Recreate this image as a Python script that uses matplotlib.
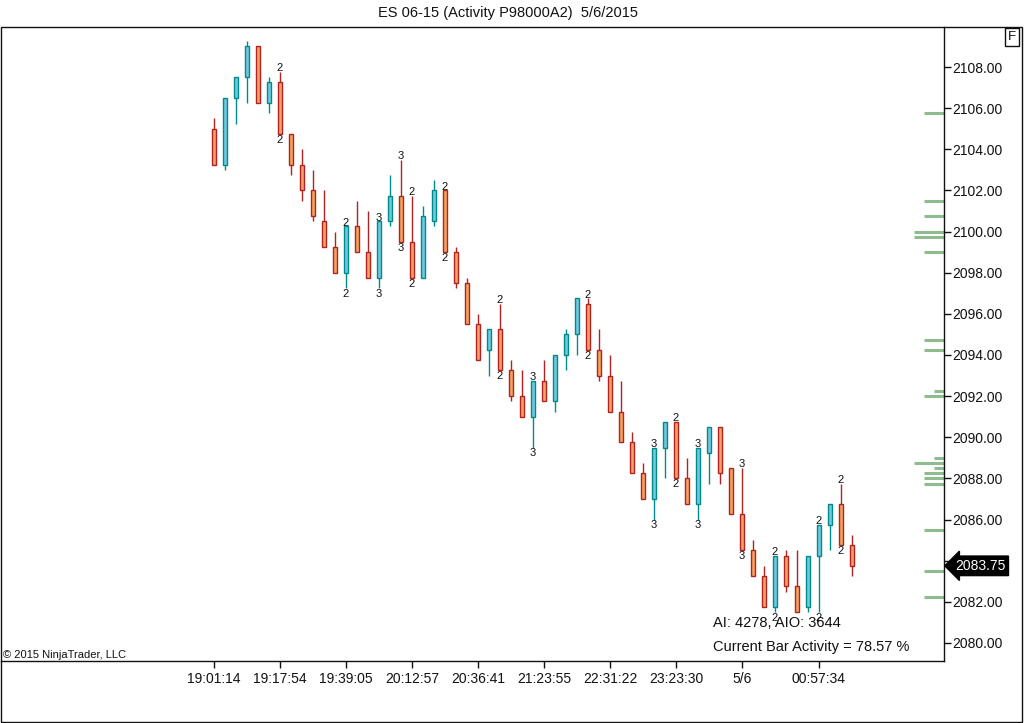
import matplotlib
matplotlib.use("Agg")
import matplotlib.pyplot as plt
import numpy as np
from matplotlib.patches import Rectangle

plt.rcParams["font.family"] = ["Liberation Sans", "DejaVu Sans"]

# OHLC per bar (ES 06-15, activity bars)
opens = [2105.0, 2103.25, 2106.5, 2107.5, 2109.0, 2106.25, 2107.25, 2104.75, 2103.25, 2102.0,
         2100.5, 2099.25, 2098.0, 2100.25, 2099.0, 2097.75, 2100.5, 2101.75, 2099.5, 2097.75,
         2100.5, 2102.0, 2099.0, 2097.5, 2095.5, 2094.25, 2095.25, 2093.25, 2092.0, 2091.0,
         2092.75, 2091.75, 2094.0, 2095.0, 2096.5, 2094.25, 2093.0, 2091.25, 2089.75, 2088.25,
         2087.0, 2089.5, 2090.75, 2088.0, 2086.75, 2089.25, 2090.5, 2088.5, 2086.25, 2084.5,
         2083.25, 2081.75, 2084.25, 2082.75, 2081.75, 2084.25, 2085.75, 2086.75, 2084.75]
highs = [2105.5, 2106.5, 2107.5, 2109.25, 2109.0, 2107.5, 2107.75, 2104.75, 2104.0, 2103.0,
         2102.0, 2100.0, 2100.25, 2101.5, 2101.0, 2100.5, 2102.75, 2103.5, 2101.75, 2101.25,
         2102.5, 2102.0, 2099.25, 2097.75, 2096.0, 2095.25, 2096.5, 2093.75, 2093.25, 2092.75,
         2093.75, 2094.0, 2095.25, 2096.75, 2096.75, 2095.25, 2094.0, 2092.75, 2090.25, 2088.75,
         2089.5, 2090.75, 2090.75, 2089.0, 2089.5, 2090.5, 2090.5, 2088.5, 2088.5, 2085.0,
         2083.75, 2084.25, 2084.5, 2084.5, 2084.25, 2085.75, 2086.75, 2087.75, 2085.25]
lows = [2103.25, 2103.0, 2105.25, 2106.25, 2106.25, 2105.75, 2104.75, 2102.75, 2101.5, 2100.5,
        2099.25, 2098.0, 2097.25, 2099.0, 2097.75, 2097.25, 2100.25, 2099.5, 2097.75, 2097.75,
        2100.25, 2099.0, 2097.25, 2095.5, 2093.75, 2093.0, 2093.25, 2091.75, 2091.0, 2089.5,
        2091.75, 2091.25, 2093.25, 2094.0, 2094.25, 2092.75, 2091.25, 2089.75, 2088.25, 2087.0,
        2086.0, 2088.0, 2088.0, 2086.75, 2086.0, 2087.75, 2087.75, 2086.25, 2084.5, 2083.25,
        2081.75, 2081.5, 2082.5, 2081.5, 2081.5, 2081.5, 2084.5, 2084.75, 2083.25]
closes = [2103.25, 2106.5, 2107.5, 2109.0, 2106.25, 2107.25, 2104.75, 2103.25, 2102.0, 2100.75,
          2099.25, 2098.0, 2100.25, 2099.0, 2097.75, 2100.5, 2101.75, 2099.5, 2097.75, 2100.75,
          2102.0, 2099.0, 2097.5, 2095.5, 2093.75, 2095.25, 2093.25, 2092.0, 2091.0, 2092.75,
          2091.75, 2094.0, 2095.0, 2096.75, 2094.25, 2093.0, 2091.25, 2089.75, 2088.25, 2087.0,
          2089.5, 2090.75, 2088.0, 2086.75, 2089.5, 2090.5, 2088.25, 2086.25, 2084.5, 2083.25,
          2081.75, 2084.25, 2082.75, 2081.5, 2084.25, 2085.75, 2086.75, 2084.75, 2083.75]

# small count markers above high / below low (bar index -> value)
marker_bars = [6, 12, 15, 17, 18, 21, 26, 29, 34, 40, 42, 44, 48, 51, 55, 57]
marker_top = [2, 2, 3, 3, 2, 2, 2, 3, 2, 3, 2, 3, 3, 2, 2, 2]
marker_bottom = [2, 2, 3, 3, 2, 2, 2, 3, 2, 3, 2, 3, 3, 2, 2, 2]

# x axis time labels
time_tick_bars = [0, 6, 12, 18, 24, 30, 36, 42, 48, 55]
time_tick_labels = ["19:01:14", "19:17:54", "19:39:05", "20:12:57", "20:36:41",
                    "21:23:55", "22:31:22", "23:23:30", "5/6", "00:57:34"]

# green activity profile at the price axis
profile_prices = [2105.75, 2101.5, 2100.75, 2100.0, 2099.75, 2099.0, 2094.75, 2094.25,
                  2092.25, 2092.0, 2089.0, 2088.75, 2088.5, 2088.25, 2088.0, 2087.75,
                  2085.5, 2083.5, 2082.25]
profile_counts = [2, 2, 2, 3, 3, 2, 2, 2, 1, 2, 1, 3, 1, 2, 2, 2, 2, 2, 2]

last_price = 2083.75
title = "ES 06-15 (Activity P98000A2)  5/6/2015"
info_line1 = "AI: 4278, AIO: 3644"
info_line2 = "Current Bar Activity = 78.57 %"

UP_FILL, UP_EDGE = "#72C8E0", "#008B8B"
DN_FILL, DN_EDGE = "#F4A460", "#B22222"
TEXT = "#111111"

W, H = 1024, 723
fig = plt.figure(figsize=(W / 100, H / 100), dpi=100)
fig.patch.set_facecolor("white")

ax_l, ax_r, ax_t, ax_b = 1, 944, 27, 661
ax = fig.add_axes([ax_l / W, (H - ax_b) / H, (ax_r - ax_l) / W, (ax_b - ax_t) / H])

o = np.array(opens)
h = np.array(highs)
lo = np.array(lows)
c = np.array(closes)
x = np.arange(len(o))
up = c >= o

ax.vlines(x[up], lo[up], h[up], color=UP_EDGE, lw=1.0, zorder=2)
ax.vlines(x[~up], lo[~up], h[~up], color=DN_EDGE, lw=1.0, zorder=2)
body_bottom = np.minimum(o, c)
body_height = np.abs(c - o)
ax.bar(x[up], body_height[up], bottom=body_bottom[up], width=0.45,
       color=UP_FILL, edgecolor=UP_EDGE, linewidth=1.0, zorder=3)
ax.bar(x[~up], body_height[~up], bottom=body_bottom[~up], width=0.45,
       color=DN_FILL, edgecolor=DN_EDGE, linewidth=1.0, zorder=3)

for b, nt, nb in zip(marker_bars, marker_top, marker_bottom):
    ax.annotate(str(nt), (b, h[b]), xytext=(0, 0.5), textcoords="offset points",
                ha="center", va="baseline", fontsize=8, color=TEXT, zorder=4)
    ax.annotate(str(nb), (b, lo[b]), xytext=(0, -0.5), textcoords="offset points",
                ha="center", va="top", fontsize=8, color=TEXT, zorder=4)

# activity profile, drawn leftwards from the price axis
px_unit = 10 / (ax_r - ax_l)
ytr = ax.get_yaxis_transform()
for p, n in zip(profile_prices, profile_counts):
    ax.plot([1 - n * px_unit, 1], [p, p], transform=ytr, color="#8FBC8F",
            lw=2.2, solid_capstyle="butt", zorder=1)

# axes limits so that bars sit on an 11 px grid
x0 = -213 / 11
ax.set_xlim(x0, x0 + (ax_r - ax_l) / 11)
ax.set_ylim(2108 - (ax_b - 67) / 20.57, 2108 + (67 - ax_t) / 20.57)

ax.yaxis.tick_right()
ax.set_yticks(np.arange(2080, 2109, 2))
ax.set_yticklabels([f"{v:.2f}" for v in np.arange(2080, 2109, 2)])
ax.tick_params(axis="y", direction="out", length=5, width=1, pad=1,
               labelsize=10, labelcolor=TEXT, colors="#111111")
ax.set_xticks(time_tick_bars)
ax.set_xticklabels(time_tick_labels)
ax.tick_params(axis="x", direction="out", length=5, width=1, pad=3,
               labelsize=10, labelcolor=TEXT, colors="#111111")
for s in ["left", "top"]:
    ax.spines[s].set_visible(False)
for s in ["right", "bottom"]:
    ax.spines[s].set_color("#111111")
    ax.spines[s].set_linewidth(1.0)

# last price tag
ax.text(1.012, last_price, f"{last_price:.2f}", transform=ytr, ha="left", va="center",
        fontsize=10, color="white", zorder=6, clip_on=False,
        bbox=dict(boxstyle="larrow,pad=0.2", fc="black", ec="black"))

# info texts (bottom right of the price panel)
info_x = x0 + (713 - ax_l) / 11
ax.text(info_x, 2080.78, info_line1, fontsize=10.5, color=TEXT,
        va="baseline", ha="left", zorder=5)
ax.text(info_x, 2079.6, info_line2, fontsize=10.5, color=TEXT,
        va="baseline", ha="left", zorder=5)

fig.text(3 / W, 1 - 658 / H, "\u00a9 2015 NinjaTrader, LLC", fontsize=8,
         color=TEXT, ha="left", va="baseline")
fig.text(0.5 * (368 + 648) / W, 1 - 13 / H, title, fontsize=10.5, color=TEXT,
         ha="center", va="center")
fig.text(1012 / W, 1 - 37 / H, "F", fontsize=9.5, color=TEXT, ha="center",
         va="center", bbox=dict(boxstyle="square,pad=0.2", fc="white", ec="#111111", lw=1))

# outer frame of the chart panel
fig.add_artist(Rectangle((1 / W, 1 / H), 1021 / W, (H - 27 - 1) / H,
                         transform=fig.transFigure, fill=False, ec="#111111", lw=1.0))

fig.savefig("out.png", dpi=100, facecolor="white")
